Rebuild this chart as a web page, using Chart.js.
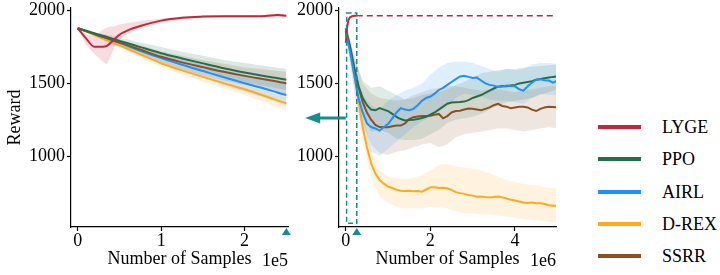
<!DOCTYPE html>
<html>
<head>
<meta charset="utf-8">
<script src="https://cdn.jsdelivr.net/npm/chart.js@4/dist/chart.umd.min.js"></script>
<style>
  body { margin: 0; background: #fff; width: 720px; height: 275px; position: relative; overflow: hidden;
         font-family: "Liberation Serif", Tinos, "Times New Roman", "DejaVu Serif", serif; }
  #leftChart { position: absolute; left: 0; top: 0; }
  #rightChart { position: absolute; left: 290px; top: 0; }
  #legend { position: absolute; left: 598px; top: 111px; }
  .row { height: 32.3px; display: flex; align-items: center; }
  .swatch { width: 43px; height: 4px; margin-right: 21px; }
  .label { font-size: 18px; color: #000; line-height: 20px; }
</style>
</head>
<body>
<canvas id="leftChart" width="295" height="275"></canvas>
<canvas id="rightChart" width="280" height="275"></canvas>
<div id="legend"></div>
<script>
// ---- data ----
const methods = ["LYGE", "PPO", "AIRL", "D-REX", "SSRR"];
const colors = ["#c1283a", "#266e4a", "#1e90ff", "#ffaa1e", "#8b5023"];

const yTicks = [1000, 1500, 2000];
const xTicksLeft = [0, 1, 2];
const xTicksRight = [0, 2, 4];

// left panel, x in units of 1e5 samples
const xLeft = [0, 0.1, 0.2, 0.3, 0.35, 0.45, 0.5, 0.6, 0.75, 1, 1.25, 1.5, 1.75, 2, 2.25, 2.4, 2.5];
const lygeLeft   = [1880, 1810, 1752, 1752, 1758, 1810, 1835, 1865, 1895, 1932, 1952, 1960, 1963, 1962, 1964, 1970, 1966];
const lygeLeftLo = [1880, 1765, 1705, 1650, 1630, 1760, 1800, 1840, 1878, 1918, 1940, 1950, 1953, 1953, 1955, 1958, 1955];
const lygeLeftHi = [1880, 1840, 1825, 1870, 1885, 1895, 1905, 1915, 1930, 1946, 1960, 1968, 1970, 1970, 1972, 1980, 1978];
const ppoLeft    = [1880, 1862, 1845, 1828, 1820, 1802, 1793, 1776, 1750, 1708, 1672, 1638, 1605, 1575, 1550, 1535, 1525];
const ppoLeftLo  = [1880, 1858, 1836, 1814, 1804, 1782, 1770, 1748, 1715, 1670, 1625, 1585, 1545, 1510, 1480, 1465, 1455];
const ppoLeftHi  = [1880, 1867, 1854, 1841, 1835, 1822, 1815, 1802, 1782, 1750, 1718, 1690, 1662, 1640, 1620, 1608, 1600];
const airlLeft   = [1880, 1860, 1840, 1820, 1810, 1790, 1780, 1758, 1725, 1674, 1628, 1585, 1542, 1501, 1462, 1436, 1420];
const airlLeftLo = [1880, 1856, 1832, 1808, 1797, 1774, 1762, 1738, 1700, 1645, 1592, 1540, 1490, 1445, 1400, 1368, 1345];
const airlLeftHi = [1880, 1864, 1848, 1832, 1823, 1806, 1798, 1778, 1750, 1700, 1662, 1628, 1592, 1560, 1528, 1510, 1500];
const drexLeft   = [1880, 1856, 1832, 1808, 1797, 1773, 1762, 1737, 1700, 1639, 1590, 1545, 1502, 1460, 1412, 1382, 1363];
const drexLeftLo = [1880, 1852, 1825, 1798, 1785, 1758, 1745, 1718, 1676, 1615, 1562, 1512, 1465, 1420, 1368, 1334, 1310];
const drexLeftHi = [1880, 1860, 1840, 1818, 1808, 1787, 1778, 1756, 1722, 1660, 1614, 1572, 1530, 1490, 1448, 1420, 1405];
const ssrrLeft   = [1880, 1860, 1840, 1820, 1812, 1792, 1782, 1762, 1733, 1683, 1645, 1612, 1580, 1552, 1527, 1512, 1500];
const ssrrLeftLo = [1880, 1856, 1832, 1808, 1798, 1774, 1762, 1738, 1702, 1645, 1596, 1555, 1520, 1490, 1458, 1436, 1420];
const ssrrLeftHi = [1880, 1864, 1848, 1832, 1825, 1810, 1802, 1785, 1762, 1720, 1690, 1662, 1635, 1610, 1595, 1586, 1580];

// right panel, x in units of 1e6 samples
const xRight = [0, 0.1, 0.2, 0.3, 0.4, 0.5, 0.6, 0.7, 0.8, 0.9, 1, 1.1, 1.2, 1.3, 1.4, 1.5, 1.6, 1.7, 1.8, 1.9,
                2, 2.1, 2.2, 2.3, 2.4, 2.5, 2.6, 2.7, 2.8, 2.9, 3, 3.1, 3.2, 3.3, 3.4, 3.5, 3.6, 3.7, 3.8, 3.9,
                4, 4.1, 4.2, 4.3, 4.4, 4.5, 4.6, 4.7, 4.8, 4.9, 5];
const xRightBand = [0, 0.2, 0.4, 0.6, 0.8, 1, 1.2, 1.4, 1.6, 1.8, 2, 2.2, 2.4, 2.6, 2.8, 3, 3.2, 3.4, 3.6, 3.8,
                    4, 4.2, 4.4, 4.6, 4.8, 5];
const xLygeRight = [0, 0.03, 0.06, 0.1, 0.15, 0.2, 0.26];
const lygeRight  = [1780, 1880, 1935, 1955, 1962, 1965, 1966];
const xLygeRef = [0.26, 5];
const lygeRef  = [1966, 1966];

const ppoRight = [1860, 1740, 1600, 1480, 1400, 1350, 1320, 1315, 1330, 1320, 1310, 1290, 1270, 1255, 1245, 1248, 1250, 1255, 1262, 1270,
                  1285, 1300, 1320, 1340, 1360, 1368, 1370, 1372, 1375, 1385, 1400, 1410, 1420, 1435, 1450, 1465, 1478, 1482, 1480, 1485,
                  1490, 1500, 1505, 1510, 1515, 1525, 1530, 1535, 1540, 1545, 1548];
const ppoRightLo = [1840, 1520, 1280, 1170, 1180, 1160, 1120, 1110, 1110, 1120, 1150, 1180, 1230, 1250, 1260, 1270, 1290, 1320, 1350, 1370,
                    1380, 1390, 1400, 1420, 1440, 1460];
const ppoRightHi = [1880, 1680, 1520, 1470, 1480, 1450, 1420, 1390, 1400, 1420, 1430, 1440, 1460, 1490, 1510, 1540, 1570, 1580, 1590, 1600,
                    1600, 1610, 1615, 1620, 1625, 1630];

const airlRight = [1850, 1720, 1560, 1400, 1300, 1225, 1200, 1190, 1175, 1200, 1220, 1260, 1300, 1330, 1320, 1315, 1325, 1350, 1380, 1400,
                   1410, 1430, 1455, 1470, 1490, 1510, 1530, 1548, 1552, 1545, 1538, 1540, 1520, 1500, 1490, 1485, 1475, 1478, 1485, 1482,
                   1480, 1460, 1450, 1480, 1505, 1525, 1528, 1522, 1520, 1505, 1520];
const airlRightLo = [1820, 1450, 1150, 1030, 1000, 1050, 1100, 1150, 1200, 1240, 1270, 1310, 1350, 1400, 1430, 1420, 1410, 1390, 1380, 1380,
                     1370, 1360, 1400, 1430, 1420, 1420];
const airlRightHi = [1880, 1650, 1420, 1350, 1320, 1380, 1420, 1450, 1470, 1500, 1560, 1610, 1640, 1650, 1650, 1640, 1620, 1600, 1580, 1600,
                     1590, 1600, 1630, 1640, 1640, 1635];

const drexRight = [1880, 1750, 1560, 1380, 1200, 1060, 950, 880, 835, 810, 790, 780, 768, 762, 760, 762, 758, 760, 755, 770,
                   785, 785, 780, 782, 778, 768, 752, 745, 740, 732, 728, 720, 722, 718, 715, 718, 722, 716, 708, 700,
                   695, 688, 680, 678, 680, 676, 675, 670, 662, 658, 658];
const drexRightLo = [1870, 1450, 1100, 850, 720, 680, 650, 640, 640, 640, 650, 650, 640, 620, 605, 605, 600, 600, 590, 585,
                     575, 565, 560, 555, 548, 545];
const drexRightHi = [1890, 1650, 1300, 1050, 900, 860, 850, 840, 850, 870, 900, 940, 945, 930, 920, 915, 900, 880, 860, 835,
                     820, 810, 800, 795, 780, 778];

const ssrrRight = [1880, 1760, 1610, 1480, 1370, 1300, 1250, 1215, 1200, 1198, 1198, 1205, 1210, 1210, 1225, 1255, 1268, 1272, 1275, 1275,
                   1278, 1285, 1290, 1260, 1275, 1300, 1310, 1312, 1320, 1328, 1325, 1320, 1315, 1325, 1335, 1350, 1360, 1345, 1340, 1330,
                   1335, 1340, 1340, 1335, 1320, 1310, 1325, 1335, 1340, 1338, 1335];
const ssrrRightLo = [1860, 1500, 1220, 1080, 1020, 1010, 1030, 1040, 1060, 1080, 1090, 1060, 1080, 1130, 1150, 1160, 1170, 1180, 1190, 1190,
                     1180, 1170, 1180, 1190, 1200, 1190];
const ssrrRightHi = [1900, 1700, 1500, 1430, 1400, 1390, 1380, 1390, 1420, 1440, 1460, 1470, 1480, 1480, 1470, 1460, 1450, 1460, 1460, 1450,
                     1440, 1450, 1460, 1470, 1480, 1480];

// annotation positions (data units)
const markerLeft = 2.5;
const markerRight = 0.26;
const zoomBox = { x0: 0.02, x1: 0.26, y0: 538, y1: 1984 };
const arrow = { from: 0, to: -0.96, y: 1262 };

// ---- helpers ----
const teal = "#148f8f";
const FAMILY = "'Liberation Serif', Tinos, 'Times New Roman', 'DejaVu Serif', serif";
const FONT = { family: FAMILY, size: 18 };

function pts(xs, ys) {
    return xs.map((x, i) => ({ x: x, y: ys[i] }));
}

function fade(hex, a) {
    const n = parseInt(hex.slice(1), 16);
    return `rgba(${(n >> 16) & 255}, ${(n >> 8) & 255}, ${n & 255}, ${a})`;
}

function line(xs, ys, color, extra) {
    return Object.assign({
        data: pts(xs, ys),
        borderColor: color,
        borderWidth: 2,
        pointRadius: 0,
        fill: false
    }, extra || {});
}

function band(xs, lo, hi, color, alpha) {
    return [
        { data: pts(xs, lo), borderWidth: 0, borderColor: "transparent", pointRadius: 0, fill: false },
        { data: pts(xs, hi), borderWidth: 0, borderColor: "transparent", pointRadius: 0,
          fill: "-1", backgroundColor: fade(color, alpha) }
    ];
}

function triangle(ctx, x, y) {
    ctx.beginPath();
    ctx.moveTo(x, y);
    ctx.lineTo(x - 4.5, y + 7);
    ctx.lineTo(x + 4.5, y + 7);
    ctx.closePath();
    ctx.fill();
}

function axes(xMin, xMax, xTicks, yWidth, showYTitle) {
    return {
        x: {
            type: "linear", min: xMin, max: xMax,
            afterBuildTicks: s => { s.ticks = xTicks.map(v => ({ value: v })); },
            afterFit: s => { s.height = 48; },
            ticks: { font: FONT, color: "#000", padding: -1, callback: v => String(v) },
            grid: { drawOnChartArea: false, tickLength: 4, tickColor: "#000", tickWidth: 1.2 },
            border: { color: "#000", width: 1.2 },
            title: { display: true, text: "Number of Samples", font: FONT, color: "#000", padding: { top: 0, bottom: 5 } }
        },
        y: {
            min: 512, max: 2019,
            afterBuildTicks: s => { s.ticks = yTicks.map(v => ({ value: v })); },
            afterFit: s => { s.width = yWidth; s.paddingTop = 0; s.paddingBottom = 0; },
            ticks: { font: FONT, color: "#000", padding: 2, callback: v => String(v) },
            grid: { drawOnChartArea: false, tickLength: 4, tickColor: "#000", tickWidth: 1.2 },
            border: { color: "#000", width: 1.2 },
            title: { display: showYTitle, text: "Reward", font: FONT, color: "#000", padding: { top: 4, bottom: 0 } }
        }
    };
}

function offsetLabel(text) {
    return (ctx, area) => {
        ctx.fillStyle = "#000";
        ctx.font = "18px " + FAMILY;
        ctx.textAlign = "right";
        ctx.textBaseline = "alphabetic";
        ctx.fillText(text, area.right, 266);
    };
}

const common = {
    responsive: false,
    animation: false,
    events: [],
    plugins: {
        legend: { display: false },
        tooltip: { enabled: false },
        filler: { drawTime: "beforeDatasetsDraw" }
    }
};

// ---- left chart ----
const leftMarks = {
    id: "leftMarks",
    afterDraw(chart) {
        const { ctx, chartArea, scales } = chart;
        ctx.save();
        ctx.fillStyle = teal;
        triangle(ctx, scales.x.getPixelForValue(markerLeft), chartArea.bottom + 1);
        offsetLabel("1e5")(ctx, chartArea);
        ctx.restore();
    }
};

// ---- right chart ----
const rightMarks = {
    id: "rightMarks",
    afterDraw(chart) {
        const { ctx, chartArea, scales } = chart;
        const x = scales.x, y = scales.y;
        ctx.save();
        // zoom box
        ctx.strokeStyle = teal;
        ctx.lineWidth = 1.5;
        ctx.setLineDash([5, 3]);
        const bx0 = x.getPixelForValue(zoomBox.x0), bx1 = x.getPixelForValue(zoomBox.x1);
        const by0 = y.getPixelForValue(zoomBox.y1), by1 = y.getPixelForValue(zoomBox.y0);
        ctx.strokeRect(bx0, by0, bx1 - bx0, by1 - by0);
        ctx.setLineDash([]);
        // arrow back to left panel
        const ay = y.getPixelForValue(arrow.y);
        const ax0 = x.getPixelForValue(arrow.from), ax1 = x.getPixelForValue(arrow.to);
        ctx.lineWidth = 3;
        ctx.beginPath();
        ctx.moveTo(ax0, ay);
        ctx.lineTo(ax1 + 12, ay);
        ctx.stroke();
        ctx.fillStyle = teal;
        ctx.beginPath();
        ctx.moveTo(ax1, ay);
        ctx.lineTo(ax1 + 15, ay - 5.5);
        ctx.lineTo(ax1 + 15, ay + 5.5);
        ctx.closePath();
        ctx.fill();
        // marker
        triangle(ctx, x.getPixelForValue(markerRight), chartArea.bottom + 1);
        offsetLabel("1e6")(ctx, chartArea);
        ctx.restore();
    }
};

function draw() {
    new Chart(document.getElementById("leftChart"), {
        type: "line",
        data: {
            datasets: [
                line(xLeft, lygeLeft, colors[0], { cubicInterpolationMode: "monotone" }),
                line(xLeft, ppoLeft, colors[1], { cubicInterpolationMode: "monotone" }),
                line(xLeft, ssrrLeft, colors[4], { cubicInterpolationMode: "monotone" }),
                line(xLeft, airlLeft, colors[2], { cubicInterpolationMode: "monotone" }),
                line(xLeft, drexLeft, colors[3], { cubicInterpolationMode: "monotone" }),
                ...band(xLeft, lygeLeftLo, lygeLeftHi, colors[0], 0.16),
                ...band(xLeft, ppoLeftLo, ppoLeftHi, colors[1], 0.16),
                ...band(xLeft, airlLeftLo, airlLeftHi, colors[2], 0.16),
                ...band(xLeft, drexLeftLo, drexLeftHi, colors[3], 0.16),
                ...band(xLeft, ssrrLeftLo, ssrrLeftHi, colors[4], 0.16)
            ]
        },
        options: Object.assign({}, common, {
            layout: { padding: { top: 8, right: 7, left: 0, bottom: 0 } },
            scales: axes(-0.08, 2.52, xTicksLeft, 71, true)
        }),
        plugins: [leftMarks]
    });

    new Chart(document.getElementById("rightChart"), {
        type: "line",
        data: {
            datasets: [
                line(xLygeRight, lygeRight, colors[0]),
                line(xLygeRef, lygeRef, colors[0], { borderDash: [6, 4], borderWidth: 1.6 }),
                line(xRight, airlRight, colors[2]),
                line(xRight, ppoRight, colors[1]),
                line(xRight, ssrrRight, colors[4]),
                line(xRight, drexRight, colors[3]),
                ...band(xRightBand, ppoRightLo, ppoRightHi, colors[1], 0.14),
                ...band(xRightBand, airlRightLo, airlRightHi, colors[2], 0.14),
                ...band(xRightBand, drexRightLo, drexRightHi, colors[3], 0.14),
                ...band(xRightBand, ssrrRightLo, ssrrRightHi, colors[4], 0.14)
            ]
        },
        options: Object.assign({}, common, {
            layout: { padding: { top: 8, right: 14, left: 0, bottom: 0 } },
            scales: axes(-0.16, 4.97, xTicksRight, 49, false)
        }),
        plugins: [rightMarks]
    });

    // ---- legend ----
    const legend = document.getElementById("legend");
    methods.forEach((m, i) => {
        const row = document.createElement("div");
        row.className = "row";
        row.innerHTML = `<div class="swatch" style="background:${colors[i]}"></div><span class="label">${m}</span>`;
        legend.appendChild(row);
    });
}

if (document.fonts && document.fonts.load) {
    document.fonts.load("18px 'Liberation Serif'").then(draw, draw);
} else {
    draw();
}
</script>
</body>
</html>
